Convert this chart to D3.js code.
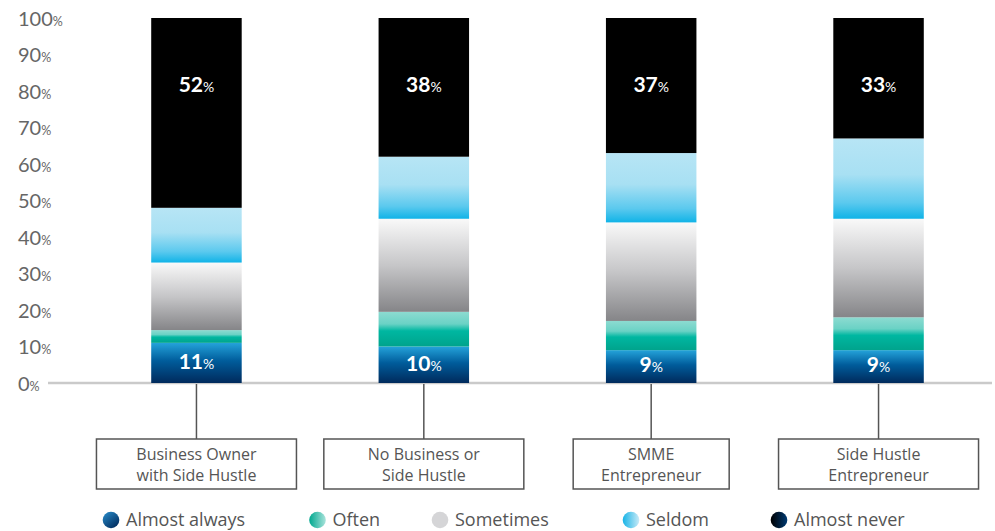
<!DOCTYPE html>
<html>
<head>
<meta charset="utf-8">
<script src="https://cdn.jsdelivr.net/npm/d3@7/dist/d3.min.js"></script>
<style>
  html, body { margin: 0; padding: 0; background: #fff; }
  svg { display: block; }
</style>
</head>
<body>
<svg id="chart" width="995" height="531"></svg>
<script>
// Categories (two-line labels shown in the boxes under each bar)
const categories = ["Business Owner with Side Hustle", "No Business or Side Hustle", "SMME Entrepreneur", "Side Hustle Entrepreneur"];
const categoryLines = [
  ["Business Owner", "with Side Hustle"],
  ["No Business or", "Side Hustle"],
  ["SMME", "Entrepreneur"],
  ["Side Hustle", "Entrepreneur"]
];

// Series names, bottom to top of each stack
const seriesNames = ["Almost always", "Often", "Sometimes", "Seldom", "Almost never"];

// Share of respondents (%) per category
const almostAlways = [11, 10, 9, 9];
const often        = [3.5, 9.5, 8, 9];
const sometimes    = [18.5, 25.5, 27, 27];
const seldom       = [15, 17, 19, 22];
const almostNever  = [52, 38, 37, 33];

// Axis ticks
const yTicks = [0, 10, 20, 30, 40, 50, 60, 70, 80, 90, 100];

// Layout constants
const boxWidths = [200, 200, 156, 200];
const legendX = [111, 317.5, 440, 631, 779];

const seriesValues = [almostAlways, often, sometimes, seldom, almostNever];
const table = categories.map((c, i) => {
  const row = { category: c };
  seriesNames.forEach((s, k) => { row[s] = seriesValues[k][i]; });
  return row;
});

const svg = d3.select("#chart");
const defs = svg.append("defs");

// Vertical gradients for the bar segments
const barGradients = [
  { id: "g-aa", stops: [[0, "#24a3da"], [0.45, "#005c9b"], [1, "#002a5c"]] },
  { id: "g-of", stops: [[0, "#8ddbd1"], [0.35, "#6ad2c5"], [0.55, "#00b7a1"], [1, "#00a38c"]] },
  { id: "g-so", stops: [[0, "#f9f9f9"], [0.5, "#c6c6c8"], [1, "#858588"]] },
  { id: "g-se", stops: [[0, "#b7e5f5"], [0.45, "#a8e0f3"], [0.8, "#5bc9ee"], [1, "#10b3e7"]] },
  { id: "g-an", stops: [[0, "#000000"], [1, "#000000"]] }
];
barGradients.forEach(g => {
  const lg = defs.append("linearGradient").attr("id", g.id)
    .attr("x1", 0).attr("y1", 0).attr("x2", 0).attr("y2", 1);
  g.stops.forEach(s => lg.append("stop").attr("offset", s[0]).attr("stop-color", s[1]));
});

// Gradients for the legend dots
const dotGradients = [
  { id: "d-aa", stops: [[0, "#2a8fcd"], [1, "#002a5c"]], dir: [0, 0, 0.8, 1] },
  { id: "d-of", stops: [[0, "#00a88f"], [1, "#a9e3db"]], dir: [0, 0, 1, 0] },
  { id: "d-so", stops: [[0, "#d5d5d7"], [1, "#d5d5d7"]], dir: [0, 0, 1, 0] },
  { id: "d-se", stops: [[0, "#17b4e7"], [1, "#c8eaf7"]], dir: [0, 0, 1, 0] },
  { id: "d-an", stops: [[0, "#000000"], [1, "#003a72"]], dir: [0, 0, 1, 0] }
];
dotGradients.forEach(g => {
  const lg = defs.append("linearGradient").attr("id", g.id)
    .attr("x1", g.dir[0]).attr("y1", g.dir[1]).attr("x2", g.dir[2]).attr("y2", g.dir[3]);
  g.stops.forEach(s => lg.append("stop").attr("offset", s[0]).attr("stop-color", s[1]));
});

// Scales
const x = d3.scaleBand().domain(categories).range([83, 992])
  .paddingInner(0.602).paddingOuter(0.3);
const y = d3.scaleLinear().domain([0, 100]).range([383, 18]);

// Y axis labels: large number, small percent sign
const axis = d3.axisLeft(y).tickValues(yTicks).tickSize(0).tickFormat(d => d);
const gAxis = svg.append("g").attr("transform", "translate(18,0)").call(axis);
gAxis.select(".domain").remove();
gAxis.selectAll(".tick text")
  .attr("x", 0).attr("dy", "0.35em")
  .attr("text-anchor", "start")
  .attr("fill", "#666")
  .style("font-family", "Lato, 'Open Sans', sans-serif")
  .style("font-size", "20px")
  .each(function(d) {
    const t = d3.select(this);
    t.text(null);
    t.append("tspan").text(d);
    t.append("tspan").style("font-size", "12.5px").text("%");
  });

// Baseline
svg.append("line")
  .attr("x1", 48).attr("x2", 992)
  .attr("y1", y(0)).attr("y2", y(0))
  .attr("stroke", "#cacaca").attr("stroke-width", 2.5);

// Stacked bars
const stack = d3.stack().keys(seriesNames);
const layers = stack(table);
const gradIds = barGradients.map(g => g.id);

svg.append("g").selectAll("g")
  .data(layers)
  .join("g")
  .attr("fill", (d, i) => `url(#${gradIds[i]})`)
  .selectAll("rect")
  .data(d => d)
  .join("rect")
  .attr("x", d => x(d.data.category))
  .attr("width", x.bandwidth())
  .attr("y", d => y(d[1]))
  .attr("height", d => y(d[0]) - y(d[1]));

// Value labels: "Almost never" near the top of the bar, "Almost always" inside its segment
function valueLabel(sel, val) {
  sel.append("tspan").attr("font-weight", 700).style("font-size", "21px").text(val);
  sel.append("tspan").attr("font-weight", 400).style("font-size", "14px").text("%");
}
const labelFont = "Lato, 'Open Sans', sans-serif";

svg.append("g").selectAll("text")
  .data(table)
  .join("text")
  .attr("x", d => x(d.category) + x.bandwidth() / 2)
  .attr("y", y(100) + 74)
  .attr("text-anchor", "middle")
  .attr("fill", "#fff")
  .style("font-family", labelFont)
  .each(function(d) { valueLabel(d3.select(this), d["Almost never"]); });

svg.append("g").selectAll("text")
  .data(table)
  .join("text")
  .attr("x", d => x(d.category) + x.bandwidth() / 2)
  .attr("y", d => y(d["Almost always"] / 2))
  .attr("dy", "0.36em")
  .attr("text-anchor", "middle")
  .attr("fill", "#fff")
  .style("font-family", labelFont)
  .each(function(d) { valueLabel(d3.select(this), d["Almost always"]); });

// Category connectors and boxes
const boxTop = 439, boxH = 50;
const cat = svg.append("g").selectAll("g")
  .data(categories)
  .join("g");

cat.append("line")
  .attr("x1", d => x(d) + x.bandwidth() / 2)
  .attr("x2", d => x(d) + x.bandwidth() / 2)
  .attr("y1", y(0) + 1).attr("y2", boxTop)
  .attr("stroke", "#555").attr("stroke-width", 1.5);

cat.append("rect")
  .attr("x", (d, i) => x(d) + x.bandwidth() / 2 - boxWidths[i] / 2)
  .attr("y", boxTop)
  .attr("width", (d, i) => boxWidths[i])
  .attr("height", boxH)
  .attr("fill", "#fff")
  .attr("stroke", "#555").attr("stroke-width", 1.5);

cat.append("text")
  .attr("text-anchor", "middle")
  .attr("fill", "#555")
  .style("font-family", "'Open Sans', sans-serif")
  .style("font-size", "16px")
  .each(function(d, i) {
    const t = d3.select(this);
    const cx = x(d) + x.bandwidth() / 2;
    categoryLines[i].forEach((line, j) => {
      t.append("tspan").attr("x", cx).attr("y", boxTop + 21 + j * 21).text(line);
    });
  });

// Legend
const legend = svg.append("g").selectAll("g")
  .data(seriesNames)
  .join("g")
  .attr("transform", (d, i) => `translate(${legendX[i]},520)`);

legend.append("circle")
  .attr("r", 8.3)
  .attr("fill", (d, i) => `url(#${dotGradients[i].id})`);

legend.append("text")
  .attr("x", 15)
  .attr("dy", "0.35em")
  .attr("fill", "#555")
  .style("font-family", "'Open Sans', sans-serif")
  .style("font-size", "18px")
  .text(d => d);
</script>
</body>
</html>
